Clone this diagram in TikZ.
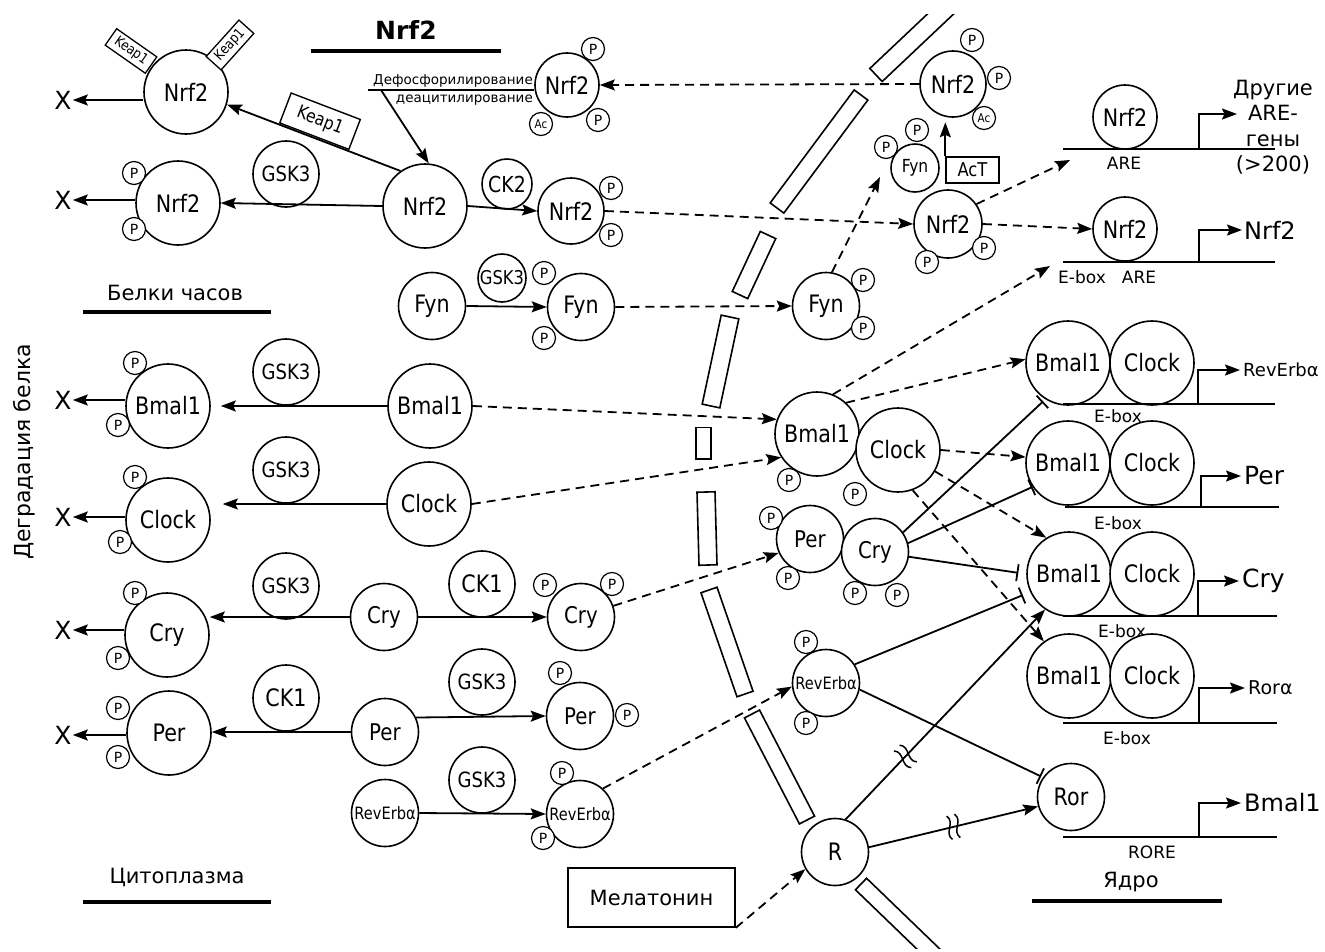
\documentclass[tikz,border=0pt]{standalone}
\usepackage{fontspec}
\setmainfont{DejaVu Sans}
\newfontfamily\cfnt{DejaVu Sans}[FakeStretch=0.86]
\usetikzlibrary{arrows.meta,calc}
\newcommand\fsz[1]{\fontsize{#1}{#1}\selectfont}
\newcommand\membar[3]{\draw[line width=1.6pt] ($(#1)!#3!90:(#2)$) -- ($(#2)!#3!-90:(#1)$) -- ($(#2)!#3!90:(#1)$) -- ($(#1)!#3!-90:(#2)$) -- cycle;}
\tikzset{
 base/.style={circle, draw, line width=1.6pt, inner sep=0pt, fill=white, font=\cfnt\fsz{24}},
 big/.style={base, minimum size=84pt},
 mid/.style={base, minimum size=67pt},
 enz/.style={base, minimum size=66pt, font=\cfnt\fsz{21}},
 pp/.style={circle, draw, line width=1.2pt, fill=white, inner sep=0pt, minimum size=23pt, font=\fsz{14}},
 acc/.style={pp, font=\cfnt\fsz{12}},
 xx/.style={font=\fsz{25}, inner sep=1pt},
 kp/.style={draw, line width=1.3pt, fill=white, font=\cfnt\fsz{14}, minimum width=49pt, minimum height=20pt, inner sep=1pt},
 kpb/.style={draw, line width=1.4pt, fill=white, font=\cfnt\fsz{18}, minimum width=74pt, minimum height=32pt, inner sep=1pt},
 lbl/.style={font=\fsz{17}, inner sep=0pt},
 gene/.style={anchor=west, inner sep=0pt},
 arr/.style={line width=1.8pt, -{Stealth[length=15pt,width=11pt,inset=2.5pt]}},
 darr/.style={arr, dash pattern=on 9pt off 6pt},
 inh/.style={line width=1.8pt, -{Bar[width=17pt,line width=1.8pt]}},
 dna/.style={line width=1.8pt},
 uline/.style={line width=4pt},
 brk/.pic={\draw[line width=1.5pt] (-4pt,-12pt) .. controls (-11pt,-4pt) and (3pt,4pt) .. (-4pt,12pt) (4pt,-12pt) .. controls (-3pt,-4pt) and (11pt,4pt) .. (4pt,12pt);}
}
\begin{document}
\begin{tikzpicture}[x=1pt,y=-1pt]
\fill[white] (0,0) rectangle (1325,951);
\useasboundingbox (0,0) rectangle (1325,951);

% membrane
\begin{scope}
\clip (0,14) rectangle (1325,948);
\membar{876,75}{949,6}{9pt}
\membar{777,208}{861,95}{8.5pt}
\membar{740,295}{768,235}{8.5pt}
\membar{711,406}{730,317}{9pt}
\membar{703.5,459}{703.5,427.5}{7.5pt}
\membar{708,565}{706,492}{9pt}
\membar{709,590}{745,694}{8.5pt}
\membar{752,714}{807,820}{8.5pt}
\membar{861,884}{947,967}{8pt}
\end{scope}

% headings
\node[font=\bfseries\fsz{25}] (title) at (406,30) {Nrf2};
\draw[uline] (311,51) -- (501,51);
\node[font=\fsz{21}] (bk) at (175,293) {Белки часов};
\draw[uline] (83,312) -- (271,312);
\node[font=\fsz{21}] (cyt) at (177,877) {Цитоплазма};
\draw[uline] (83,902) -- (271,902);
\node[font=\fsz{21}] (nuc) at (1131,882) {Ядро};
\draw[uline] (1032,901) -- (1222,901);
\node[font=\fsz{22}, rotate=90] (deg) at (24,452) {Деградация белка};

% Nrf2 block
\node[big] (n1) at (186,92) {Nrf2};
\node[kp, rotate=-35] (k1) at (131,51) {Keap1};
\node[kp, rotate=48] (k2) at (230,45) {Keap1};
\node[xx] (x1) at (63,100) {X};
\node[big] (n2) at (178,203) {Nrf2};
\node[pp] (n2p1) at (134,173) {P};
\node[pp] (n2p2) at (134,229) {P};
\node[xx] (x2) at (63,200) {X};
\node[enz] (g1) at (286,174) {GSK3};
\node[big] (n3) at (425,206) {Nrf2};
\node[enz, minimum size=50pt, font=\cfnt\fsz{22}] (ck2) at (507,184) {CK2};
\node[base, minimum size=66pt] (n5) at (571,211) {Nrf2};
\node[pp] (n5p1) at (611,188) {P};
\node[pp] (n5p2) at (611,235) {P};
\node[base, minimum size=64pt] (n4) at (567,85) {Nrf2};
\node[pp] (n4p1) at (593,49) {P};
\node[pp] (n4p2) at (598,120) {P};
\node[acc] (n4a) at (541,124) {Ac};
\node[anchor=east, font=\fsz{13.5}, inner sep=0pt] (dph) at (533,81) {Дефосфорилирование};
\node[anchor=east, font=\fsz{13.5}, inner sep=0pt] (dac) at (533,100) {деацитилирование};
\coordinate (dc0) at (368,90);
\coordinate (dc) at (381,90);

% Fyn
\node[mid] (f1) at (432,306) {Fyn};
\node[enz, minimum size=48pt, font=\cfnt\fsz{19}] (g2) at (502,278) {GSK3};
\node[mid] (f2) at (581,307) {Fyn};
\node[pp] (f2p1) at (544,273) {P};
\node[pp] (f2p2) at (544,338) {P};

% clock proteins, left
\node[big] (bL) at (168,406) {Bmal1};
\node[pp] (bLp1) at (135,363) {P};
\node[pp] (bLp2) at (118,425) {P};
\node[xx] (xb) at (63,400) {X};
\node[enz] (g3) at (286,372) {GSK3};
\node[big] (bC) at (430,406) {Bmal1};

\node[big] (cL) at (168,520) {Clock};
\node[pp] (cLp1) at (135,477) {P};
\node[pp] (cLp2) at (120,542) {P};
\node[xx] (xc) at (63,517) {X};
\node[enz] (g4) at (286,470) {GSK3};
\node[big] (cC) at (429,504) {Clock};

\node[big] (yL) at (167,635) {Cry};
\node[pp] (yLp1) at (135,593) {P};
\node[pp] (yLp2) at (118,658) {P};
\node[xx] (xy) at (63,630) {X};
\node[enz] (g5) at (286,586) {GSK3};
\node[mid, font=\cfnt\fsz{23}] (yC) at (384,617) {Cry};
\node[enz, font=\cfnt\fsz{24}] (ck1a) at (482,584) {CK1};
\node[mid, font=\cfnt\fsz{23}] (yP) at (581,617) {Cry};
\node[pp] (yPp1) at (545,585) {P};
\node[pp] (yPp2) at (612,584) {P};

\node[big] (pL) at (169,733) {Per};
\node[pp] (pLp1) at (118,708) {P};
\node[pp] (pLp2) at (118,757) {P};
\node[xx] (xp) at (63,735) {X};
\node[enz, font=\cfnt\fsz{24}] (ck1b) at (286,698) {CK1};
\node[mid, font=\cfnt\fsz{23}] (pC) at (385,732) {Per};
\node[enz] (g6) at (482,682) {GSK3};
\node[mid, font=\cfnt\fsz{23}] (pP) at (580,716) {Per};
\node[pp] (pPp1) at (560,673) {P};
\node[pp] (pPp2) at (627,715) {P};

\node[mid, font=\cfnt\fsz{17}] (rC) at (385,813) {RevErbα};
\node[enz] (g7) at (482,780) {GSK3};
\node[mid, font=\cfnt\fsz{17}] (rP) at (580,814) {RevErbα};
\node[pp] (rPp1) at (562,773) {P};
\node[pp] (rPp2) at (543,838) {P};

% membrane region
\node[mid] (mF) at (826,306) {Fyn};
\node[pp] (mFp1) at (863,280) {P};
\node[pp] (mFp2) at (863,328) {P};
\node[big] (mB) at (817,434) {Bmal1};
\node[pp] (mBp) at (789,480) {P};
\node[big] (mC) at (898,450) {Clock};
\node[pp] (mCp) at (855,494) {P};
\node[mid, font=\cfnt\fsz{23}] (mP) at (810,539) {Per};
\node[pp] (mPp1) at (771,518) {P};
\node[pp] (mPp2) at (788,578) {P};
\node[mid, font=\cfnt\fsz{23}] (mY) at (875,552) {Cry};
\node[pp] (mYp1) at (855,593) {P};
\node[pp] (mYp2) at (897,595) {P};
\node[mid, font=\cfnt\fsz{17}] (mR) at (826,683) {RevErbα};
\node[pp] (mRp1) at (806,642) {P};
\node[pp] (mRp2) at (806,723) {P};
\node[mid] (R) at (835,852) {R};
\node[draw, line width=1.6pt, minimum width=167pt, minimum height=59pt, font=\fsz{21}] (mel) at (651.5,897.5) {Мелатонин};

% right Nrf2
\node[base, minimum size=66pt] (tN) at (953,84) {Nrf2};
\node[pp] (tNp1) at (972,40) {P};
\node[pp] (tNp2) at (999,78) {P};
\node[acc] (tNa) at (984,118) {Ac};
\node[base, minimum size=48pt, font=\cfnt\fsz{18}] (sF) at (915,168) {Fyn};
\node[pp] (sFp1) at (886,147) {P};
\node[pp] (sFp2) at (917,130) {P};
\node[draw, line width=1.4pt, minimum width=53pt, minimum height=26pt, inner sep=0pt, font=\cfnt\fsz{19}] (act) at (972.5,170) {AcT};
\node[base, minimum size=68pt] (rN) at (948,224) {Nrf2};
\node[pp] (rNp1) at (927,262) {P};
\node[pp] (rNp2) at (984,248) {P};
\coordinate (fyntip) at (880,177);
\coordinate (aretip) at (1070,160);
\coordinate (eboxtip) at (1050,266);

% nucleus: ARE genes
\node[base, minimum size=64pt] (a1) at (1125,117) {Nrf2};
\draw[dna] (1063,149) -- (1275,149);
\node[lbl] (are1) at (1124,163) {ARE};
\node[font=\fontsize{21}{25.5}\selectfont, align=center, inner sep=0pt] (oth) at (1273,127) {Другие\\ARE-\\гены\\(>200)};
\coordinate (pr0) at (1199,149);
\coordinate (pt0) at (1237,114);
\draw[arr] (pr0) |- (pt0);

\node[base, minimum size=64pt] (a2) at (1125,229) {Nrf2};
\draw[dna] (1063,262) -- (1275,262);
\node[lbl] (eb0) at (1082,277) {E-box};
\node[lbl] (are2) at (1139,277) {ARE};
\node[gene, font=\fsz{24}] (gN) at (1244,230) {Nrf2};
\coordinate (pr1) at (1199,262);
\draw[arr, shorten >=2pt] (pr1) |- (gN.west);

% nucleus: E-box complexes
\node[big] (b1) at (1068,363) {Bmal1};
\node[big] (c1) at (1152,363) {Clock};
\draw[dna] (1063,404) -- (1275,404);
\node[lbl] (eb1) at (1118,416) {E-box};
\node[gene, font=\fsz{18}] (ge1) at (1243,370) {RevErbα};
\coordinate (pr2) at (1198,404);
\draw[arr, shorten >=3pt] (pr2) |- (ge1.west);

\node[big] (b2) at (1068,463) {Bmal1};
\node[big] (c2) at (1152,463) {Clock};
\draw[dna] (1065,507) -- (1279,507);
\node[lbl] (eb2) at (1118,523) {E-box};
\node[gene, font=\fsz{25}] (ge2) at (1244,476) {Per};
\coordinate (pr3) at (1201,507);
\draw[arr, shorten >=3pt] (pr3) |- (ge2.west);

\node[big] (b3) at (1069,574) {Bmal1};
\node[big] (c3) at (1152,574) {Clock};
\draw[dna] (1063,616) -- (1277,616);
\node[lbl, anchor=west] (eb3) at (1098,631) {E-box..};
\node[gene, font=\fsz{25}] (ge3) at (1242,581) {Cry};
\coordinate (pr4) at (1198,616);
\draw[arr, shorten >=3pt] (pr4) |- (ge3.west);

\node[big] (b4) at (1069,676) {Bmal1};
\node[big] (c4) at (1152,676) {Clock};
\draw[dna] (1063,723) -- (1277,723);
\node[lbl] (eb4) at (1127,738) {E-box};
\node[gene, font=\fsz{19}] (ge4) at (1248,688) {Rorα};
\coordinate (pr5) at (1199,723);
\draw[arr, shorten >=3pt] (pr5) |- (ge4.west);

\node[mid] (Ror) at (1071,797) {Ror};
\draw[dna] (1063,837) -- (1277,837);
\node[lbl] (rore) at (1152,852) {RORE};
\node[gene, font=\fsz{24}] (ge5) at (1244,803) {Bmal1};
\coordinate (pr6) at (1199,837);
\draw[arr, shorten >=3pt] (pr6) |- (ge5.west);

% connectors: Nrf2 block
\draw[arr] (n1.west |- x1) -- (x1.east);
\draw[arr] (n2.west |- x2) -- (x2.east);
\draw[arr] (n3.west) -- (n2.east);
\draw[arr] (n3.125) -- node[pos=0.5, sloped, above=1pt, kpb] (k3) {Keap1} (n1.-17);
\draw[arr] (n3.east) -- (n5.west);
\draw[line width=1.4pt] (dc0) -- (n4.west |- dc0);
\draw[arr] (dc) -- (n3.85);
\draw[darr] (tN.west) -- (n4.east);
\draw[darr] (n5.east) -- (rN.west);
\draw[arr] (f1.east) -- (f2.west);
\draw[darr] (f2.east) -- (mF.west);
\draw[darr] (mF.80) -- (fyntip);
\draw[arr] (act.north west) -- ++(0,-34);
\draw[darr] (rN.35) -- (aretip);
\draw[darr] (rN.east) -- (a2.west);
\draw[darr] (mB.68) -- (eboxtip);

% connectors: clock proteins
\draw[arr] (bL.west |- xb) -- (xb.east);
\draw[arr] (cL.west |- xc) -- (xc.east);
\draw[arr] (yL.west |- xy) -- (xy.east);
\draw[arr] (pL.west |- xp) -- (xp.east);
\draw[arr, shorten >=10pt] (bC.west) -- (bL.east);
\draw[arr, shorten >=12pt] (cC.west) -- (cL.east |- cC.west);
\draw[arr] (yC.west) -- (yL.east |- yC.west);
\draw[arr] (yC.east) -- (yP.west);
\draw[arr] (pC.west) -- (pL.east |- pC.west);
\draw[arr] (pC.25) -- (pP.west);
\draw[arr] (rC.east) -- (rP.west);
\draw[darr] (bC.east) -- (mB.160);
\draw[darr] (cC.east) -- (mB.213);
\draw[darr] (yP.19) -- (mP.204);
\draw[darr] (rP.48) -- (mR.186);
\draw[darr] (mel.south east) -- (R.210);

% connectors: nucleus
\draw[darr] (mB.47) -- (b1.175);
\draw[darr] (mC.east) -- (b2.172);
\draw[darr] (mC.-30) -- (b3.122);
\draw[darr] (mC.-70) -- (b4.126);
\draw[inh, shorten >=3pt] (mY.35) -- (b1.238);
\draw[inh] (mY.15) -- (b2.214);
\draw[inh, shorten >=8pt] (mY.-8) -- (b3.180);
\draw[inh, shorten >=8pt] (mR.33) -- (b3.205);
\draw[inh, shorten >=2pt] (mR.-11) -- (Ror.145);
\draw[arr] (R.72) -- (b3.236);
\draw[arr] (R.8) -- (Ror.196);
\path (R.72) -- (b3.236) coordinate[pos=0.3] (bk1);
\path (R.8) -- (Ror.196) coordinate[pos=0.5] (bk2);
\pic[rotate=46] at (bk1) {brk};
\pic[rotate=14] at (bk2) {brk};
\end{tikzpicture}
\end{document}
